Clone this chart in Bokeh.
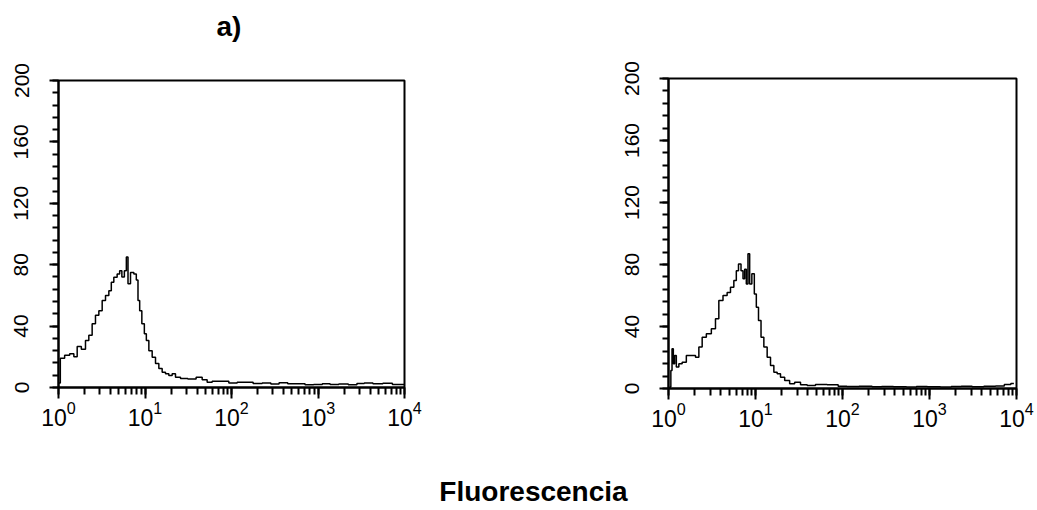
import numpy as np
from bokeh.plotting import figure
from bokeh.layouts import column, row
from bokeh.models import Range1d, SingleIntervalTicker
from bokeh.core.properties import value
from bokeh.embed import file_html
from bokeh.resources import INLINE

# ---- data (log10 of fluorescence, event counts) ----
left_log_fl = [0.0, 0.042, 0.100, 0.158, 0.197, 0.235, 0.293, 0.331, 0.370, 0.408,
               0.447, 0.486, 0.524, 0.563, 0.601, 0.620, 0.659, 0.697, 0.717, 0.748,
               0.775, 0.794, 0.813, 0.852, 0.890, 0.909, 0.929, 0.948, 0.979, 1.006,
               1.025, 1.064, 1.102, 1.141, 1.179, 1.218, 1.256, 1.295, 1.333, 1.372,
               1.449, 1.540, 1.642, 1.680, 1.757, 1.796, 1.911, 2.027, 2.104, 2.20,
               2.30, 2.41, 2.50, 2.60, 2.70, 2.80, 2.90, 3.00, 3.10, 3.18,
               3.30, 3.40, 3.50, 3.57, 3.70, 3.80, 3.92, 4.00]
left_counts = [3, 19, 21, 22, 20, 26.7, 25, 30.6, 34, 41.6,
               47, 50, 56.7, 60, 63, 68.6, 71.9, 74, 76, 72,
               76, 85, 67.6, 75, 74, 70, 56.7, 50, 41.6, 35,
               30.6, 24, 19.7, 15.6, 12.3, 10, 8.9, 7.8, 8.9, 6.7,
               5.8, 5.5, 6.7, 5.0, 3.5, 4.1, 4.0, 3.0, 3.5, 3.5,
               2.6, 3.0, 2.2, 3.1, 2.4, 2.4, 1.8, 2.0, 2.4, 2.0,
               2.2, 1.8, 2.6, 3.0, 2.4, 2.8, 2.0, 2.0]

right_log_fl = [0.010, 0.023, 0.031, 0.050, 0.061, 0.080, 0.100, 0.138, 0.176, 0.234,
                0.291, 0.330, 0.368, 0.406, 0.464, 0.521, 0.559, 0.598, 0.655, 0.693,
                0.732, 0.770, 0.789, 0.820, 0.847, 0.866, 0.885, 0.904, 0.923, 0.943,
                0.973, 1.000, 1.019, 1.050, 1.077, 1.115, 1.153, 1.192, 1.230, 1.268,
                1.307, 1.364, 1.421, 1.479, 1.556, 1.632, 1.747, 1.900, 2.00, 2.10,
                2.28, 2.40, 2.50, 2.67, 2.80, 2.90, 3.05, 3.20, 3.30, 3.43,
                3.55, 3.70, 3.82, 3.90, 3.97]
right_counts = [0, 1, 11.6, 25.6, 15.9, 21.3, 13.8, 15.9, 17, 21.3,
                21.3, 20.2, 26.7, 33, 35.3, 38.5, 45, 56.8, 60, 62,
                65.4, 69.7, 76, 80.4, 76, 70.8, 77, 67.5, 86.9, 67.5,
                74, 61, 52.5, 43.9, 33, 26.7, 20.2, 14.8, 10.5, 9.5,
                7.3, 5.2, 3.0, 4.1, 2.4, 1.9, 2.6, 2.4, 1.5, 1.3,
                1.5, 1.2, 1.3, 1.2, 1.0, 1.3, 1.2, 1.0, 1.3, 1.5,
                1.2, 1.4, 1.6, 2.6, 3.3]

y_tick_interval = 40
panel_title = "a)"
x_title = "Fluorescencia"

FONT = "Liberation Sans"


def make_panel(log_fl, counts, fw, fh, bl, br, bt, bb):
    p = figure(x_axis_type="log", x_range=Range1d(1, 10000), y_range=Range1d(0, 200),
               frame_width=fw, frame_height=fh,
               min_border_left=bl, min_border_right=br, min_border_top=bt,
               min_border_bottom=bb, output_backend="svg", toolbar_location=None)
    p.grid.visible = False
    p.outline_line_color = "black"
    p.outline_line_width = 2
    p.background_fill_color = "white"
    p.border_fill_color = "white"
    p.step(np.power(10.0, log_fl), counts, mode="center", line_color="black",
           line_width=1.5)

    xa = p.xaxis[0]
    xa.axis_line_width = 2
    xa.major_tick_in = 0
    xa.major_tick_out = 11
    xa.minor_tick_in = 0
    xa.minor_tick_out = 7
    xa.major_tick_line_width = 2
    xa.minor_tick_line_width = 2
    xa.major_label_text_font = FONT
    xa.major_label_text_font_size = "23px"
    xa.major_label_text_color = "black"
    xa.major_label_standoff = 2

    ya = p.yaxis[0]
    ya.ticker = SingleIntervalTicker(interval=y_tick_interval, num_minor_ticks=5)
    ya.axis_line_width = 2
    ya.major_tick_in = 0
    ya.major_tick_out = 9
    ya.minor_tick_in = 0
    ya.minor_tick_out = 6
    ya.major_tick_line_width = 2
    ya.minor_tick_line_width = 2
    ya.major_label_orientation = "vertical"
    ya.major_label_text_font = FONT
    ya.major_label_text_font_size = "21px"
    ya.major_label_text_color = "black"
    ya.major_label_standoff = 21
    return p


def text_strip(w, h, x, y, txt, size):
    s = figure(width=w, height=h, x_range=Range1d(0, w), y_range=Range1d(0, h),
               output_backend="svg", toolbar_location=None, min_border=0)
    s.axis.visible = False
    s.grid.visible = False
    s.outline_line_color = None
    s.text(x=[x], y=[y], text=[txt], text_align="center", text_baseline="middle",
           text_font=value(FONT), text_font_size=size, text_font_style="bold",
           text_color="black")
    return s


ptitle = text_strip(520, 46, 256, 46 - 26, panel_title, "28px")
p1 = make_panel(left_log_fl, left_counts, 346, 307, 58, 116, 34, 53)
p2 = make_panel(right_log_fl, right_counts, 348, 310, 148, 20, 78, 52)
p3 = text_strip(1036, 68, 533, 68 - 51, x_title, "28px")

layout = column(row(column(ptitle, p1), p2), p3)
open("out.html", "w").write(file_html(layout, INLINE))
